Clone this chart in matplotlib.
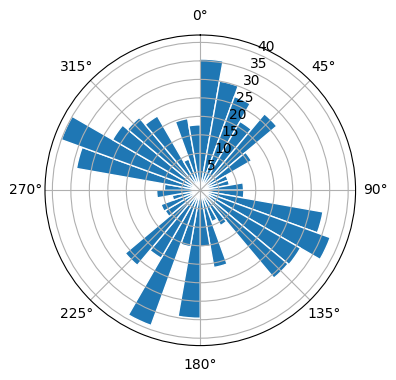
import numpy as np
import matplotlib
matplotlib.use("Agg")
import matplotlib.pyplot as plt

# Direction bins (degrees, start of each 10-degree sector)
bin_start_deg = list(range(0, 360, 10))
bin_width_deg = 10

# Bar lengths, one per sector (clockwise from North)
counts = [35.5, 30.0, 27.0, 21.5, 27.0, 16.0, 8.0, 8.0, 11.7, 11.8,
          33.7, 37.4, 31.3, 31.0, 11.0, 9.0, 21.2, 15.3, 34.6, 15.5,
          38.9, 21.2, 26.5, 11.0, 11.3, 7.7, 11.8, 9.7, 34.0, 40.0,
          27.4, 25.7, 23.2, 9.0, 19.7, 17.7]

fig = plt.figure(figsize=(3.96, 3.80), dpi=100)
ax = fig.add_axes([0.1136, 0.0905, 0.7843, 0.8174], projection="polar")
ax.set_theta_zero_location("N")
ax.set_theta_direction(-1)

theta = np.deg2rad(bin_start_deg)
ax.bar(theta, counts, width=np.deg2rad(bin_width_deg), align="edge",
       bottom=0.0, color="#1f77b4", edgecolor="white", linewidth=1)

fig.savefig("out.png", dpi=100)
